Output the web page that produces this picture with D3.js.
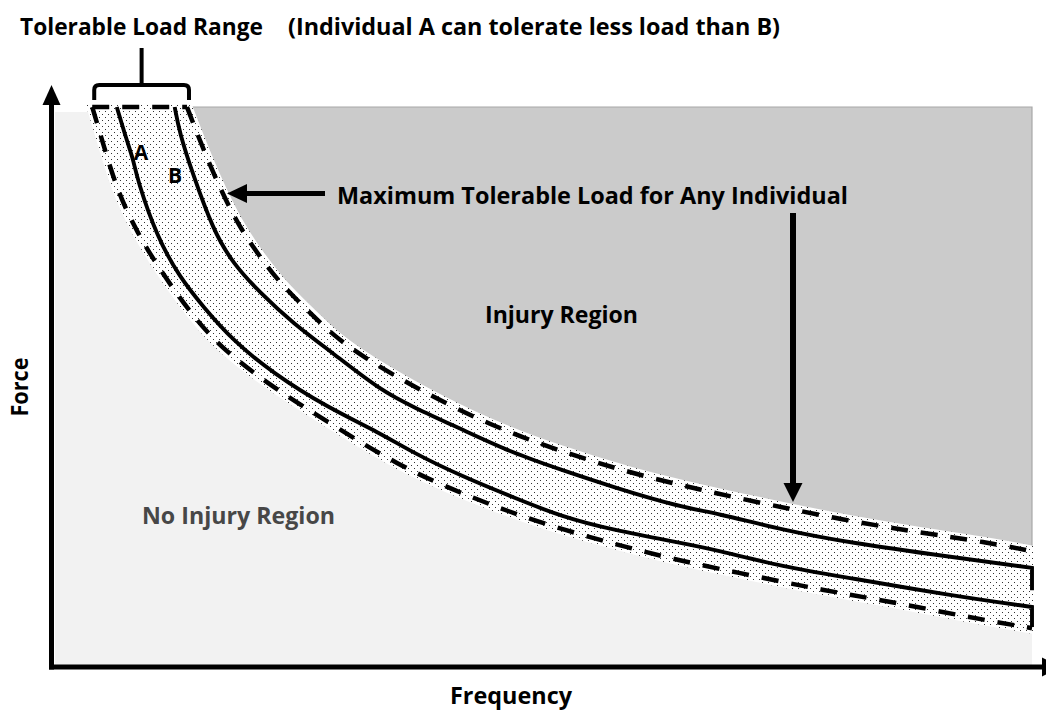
<!DOCTYPE html>
<html><head><meta charset="utf-8">
<script src="https://cdn.jsdelivr.net/npm/d3@7"></script>
<style>html,body{margin:0;padding:0;background:#fff;} svg{display:block;}</style>
</head><body>
<svg id="chart" width="1046" height="713"></svg>
<script>
// ---- Data (Frequency 0-100, Force 0-100, arbitrary units) ----
const maxTolerableLoad = [[13.95,100],[14.97,95.3],[16.6,88.2],[19.0,79.2],[21.4,73.1],[23.4,68.5],[26.2,63.6],[28.8,59.1],[32.3,54.7],[38.0,48.9],[44.8,43.0],[51.6,38.5],[59.1,34.4],[66.2,31.4],[73.3,28.7],[80.8,26.0],[88.3,23.8],[95.4,22.0],[100,20.4]];
const individualB = [[12.7,100],[13.2,95.3],[14.5,88.2],[16.6,78.0],[18.6,72.0],[21.4,66.7],[24.7,61.3],[28.8,55.9],[33.6,49.3],[37.0,46.2],[42.1,42.1],[47.1,38.0],[52.2,34.9],[57.3,31.9],[64.2,28.3],[67.9,27.2],[74.6,24.2],[81.5,21.9],[91.6,19.4],[100,17.4]];
const individualBEnd = 13.4;
const individualA = [[6.8,100],[7.8,94.1],[8.5,90.5],[8.9,86.9],[10.9,76.7],[13.2,69.5],[15.6,64.2],[18.6,58.2],[22.7,52.3],[28.2,46.2],[33.6,41.6],[37.0,38.0],[42.1,33.7],[47.1,30.1],[52.2,26.5],[57.3,24.2],[64.2,21.9],[67.9,20.6],[74.6,17.6],[81.5,15.6],[91.6,12.5],[100,10.4]];
const individualAEnd = 6.8;
const minTolerableLoad = [[4.3,100],[5.1,95.3],[6.8,85.1],[8.9,77.4],[11.2,70.8],[14.3,63.1],[17.3,57.0],[22.1,50.5],[26.8,45.2],[35.6,35.5],[42.8,30.1],[49.6,25.6],[57.0,21.9],[63.8,18.8],[71.3,16.1],[78.7,13.4],[85.8,11.3],[93.4,8.6],[100,6.6]];
const frequencyDomain = [0, 100];
const forceDomain = [0, 100];
const axisTitles = ["Frequency", "Force"];
const headerLabels = ["Tolerable Load Range", "(Individual A can tolerate less load than B)"];
const regionLabels = ["Injury Region", "No Injury Region"];
const curveLabels = ["A", "B"];
const annotationLabel = "Maximum Tolerable Load for Any Individual";

// ---- Drawing ----
const svg = d3.select("#chart");
const x = d3.scaleLinear().domain(frequencyDomain).range([50, 1032]);
const y = d3.scaleLinear().domain(forceDomain).range([665, 107]);
const line = d3.line().x(d => x(d[0])).y(d => y(d[1])).curve(d3.curveBasis);

const defs = svg.append("defs");
const pat = defs.append("pattern").attr("id", "dots").attr("patternUnits", "userSpaceOnUse")
  .attr("width", 6).attr("height", 6);
pat.append("rect").attr("width", 6).attr("height", 6).attr("fill", "#fff");
pat.append("rect").attr("x", 0).attr("y", 0).attr("width", 1).attr("height", 1).attr("fill", "#333");
pat.append("rect").attr("x", 3).attr("y", 3).attr("width", 1).attr("height", 1).attr("fill", "#333");
defs.append("clipPath").attr("id", "plotclip").append("rect")
  .attr("x", x(0)).attr("y", y(100) - 2).attr("width", x(100) - x(0) + 1).attr("height", y(0) - y(100) + 2);

// light gray background (no injury)
svg.append("rect").attr("x", x(0) + 5).attr("y", y(100) + 5)
  .attr("width", x(100) - x(0) - 5).attr("height", y(0) - y(100) - 5).attr("fill", "#f2f2f2");

// dark gray injury region
svg.append("path")
  .attr("d", line(maxTolerableLoad) + `L${x(100)},${y(100)}Z`)
  .attr("fill", "#cbcbcb");
svg.append("path")
  .attr("d", `M${x(maxTolerableLoad[0][0])},${y(100)}L${x(100)},${y(100)}L${x(100)},${y(maxTolerableLoad[maxTolerableLoad.length-1][1])}`)
  .attr("fill", "none").attr("stroke", "#a8a8a8").attr("stroke-width", 1.2);

// stippled band
const bandD = line(minTolerableLoad) + line(maxTolerableLoad.slice().reverse()).replace(/^M/, "L") + "Z";
svg.append("path").attr("d", bandD).attr("clip-path", "url(#plotclip)")
  .attr("fill", "url(#dots)").attr("stroke", "url(#dots)").attr("stroke-width", 11).attr("stroke-linejoin", "round");

// dashed boundaries
const dash = "17,13";
[minTolerableLoad, maxTolerableLoad].forEach(c => {
  svg.append("path").attr("d", line(c)).attr("fill", "none").attr("stroke", "#000")
    .attr("stroke-width", 4.5).attr("stroke-dasharray", dash);
});
svg.append("line").attr("x1", x(minTolerableLoad[0][0])).attr("x2", x(maxTolerableLoad[0][0]))
  .attr("y1", y(100)).attr("y2", y(100)).attr("stroke", "#000").attr("stroke-width", 4.5).attr("stroke-dasharray", dash);

// solid individual curves
[[individualA, individualAEnd], [individualB, individualBEnd]].forEach(([c, end]) => {
  svg.append("path").attr("d", line(c) + `L${x(100)},${y(end)}`).attr("fill", "none")
    .attr("stroke", "#000").attr("stroke-width", 3.9).attr("stroke-linejoin", "miter");
});

// axes
svg.append("line").attr("x1", 51.5).attr("x2", 51.5).attr("y1", 669.5).attr("y2", 100)
  .attr("stroke", "#000").attr("stroke-width", 5);
svg.append("path").attr("d", "M51.5,85L42.5,105L60.5,105Z").attr("fill", "#000");
svg.append("line").attr("x1", 49).attr("x2", 1045).attr("y1", 667).attr("y2", 667)
  .attr("stroke", "#000").attr("stroke-width", 5);
svg.append("path").attr("d", "M1060,667L1042,657.5L1042,676.5Z").attr("fill", "#000");

// bracket for tolerable load range
const bx0 = x(minTolerableLoad[0][0]) + 2, bx1 = x(maxTolerableLoad[0][0]) + 2, bm = (bx0 + bx1) / 2;
svg.append("path")
  .attr("d", `M${bx0},100L${bx0},90Q${bx0},85 ${bx0+5},85L${bx1-5},85Q${bx1},85 ${bx1},90L${bx1},100`)
  .attr("fill", "none").attr("stroke", "#000").attr("stroke-width", 4);
svg.append("line").attr("x1", bm).attr("x2", bm).attr("y1", 85).attr("y2", 48)
  .attr("stroke", "#000").attr("stroke-width", 4);

// arrow to max tolerable curve (horizontal)
svg.append("line").attr("x1", 325).attr("x2", 242).attr("y1", 193.5).attr("y2", 193.5)
  .attr("stroke", "#000").attr("stroke-width", 5);
svg.append("path").attr("d", "M227,193.5L247,184L247,203Z").attr("fill", "#000");
// vertical arrow
svg.append("line").attr("x1", 793).attr("x2", 793).attr("y1", 213).attr("y2", 488)
  .attr("stroke", "#000").attr("stroke-width", 6);
svg.append("path").attr("d", "M793,502L783.5,483L802.5,483Z").attr("fill", "#000");

// texts
const font = "'Open Sans', Lato, sans-serif";
function txt(s, xx, yy, len, opts = {}) {
  const t = svg.append("text").attr("x", xx).attr("y", yy).text(s)
    .attr("font-family", font).attr("font-weight", "bold")
    .attr("font-size", opts.size || 23.5).attr("fill", opts.fill || "#000")
    .attr("text-anchor", opts.anchor || "start");
  if (len) t.attr("textLength", len).attr("lengthAdjust", "spacingAndGlyphs");
  if (opts.transform) t.attr("transform", opts.transform);
  return t;
}
txt(headerLabels[0], 20, 35, 243);
txt(headerLabels[1], 288, 35, 492);
txt(annotationLabel, 337, 204, 511);
txt(regionLabels[0], 485, 323, 153);
txt(regionLabels[1], 142, 524, 193, {fill: "#474747"});
txt(axisTitles[0], 511, 704, 122, {anchor: "middle"});
txt(axisTitles[1], 0, 0, 59, {anchor: "middle", transform: "translate(28,387) rotate(-90)"});
txt(curveLabels[0], 141, 160, null, {size: 21, anchor: "middle"});
txt(curveLabels[1], 175, 183, null, {size: 21, anchor: "middle"});
</script>
</body></html>
